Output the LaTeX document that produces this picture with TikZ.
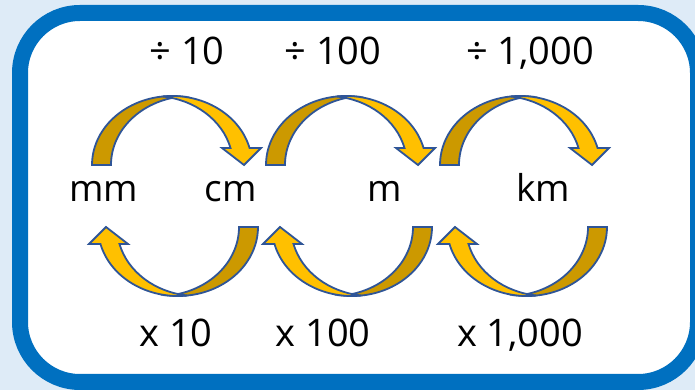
\documentclass[tikz,border=0pt]{standalone}
\usepackage{fontspec}
\setmainfont{Open Sans}
\definecolor{bgblue}{HTML}{DEEBF7}
\definecolor{frameblue}{HTML}{0070C0}
\definecolor{darkgold}{HTML}{CC9900}
\definecolor{brightgold}{HTML}{FFC000}
\definecolor{edgeblue}{HTML}{2F5597}
\tikzset{
  arrowedge/.style={draw=edgeblue, line width=1.8pt, line join=miter},
  numlabel/.style={anchor=base, inner sep=0pt, font=\fontsize{38}{40}\selectfont},
  unitlabel/.style={anchor=base, inner sep=0pt, font=\fontsize{37}{40}\selectfont},
}
\newcommand\goldarrow[3]{%
\begin{scope}[shift={(#1,#2)},rotate=#3]
\filldraw[arrowedge,fill=darkgold] (-80,0)
  arc[start angle=180,end angle=83.18,x radius=80pt,y radius=69pt]
  arc[start angle=96.82,end angle=180,x radius=80pt,y radius=69pt] -- cycle;
\filldraw[arrowedge,fill=brightgold] (96.82:80pt and 69pt)
  arc[start angle=96.82,end angle=14.26,x radius=80pt,y radius=69pt]
  -- (89,17) -- (72,0) -- (50,17) -- (58.5,17)
  arc[start angle=14.26,end angle=83.18,x radius=80pt,y radius=69pt] -- cycle;
\end{scope}}
\begin{document}
\begin{tikzpicture}[x=1pt,y=1pt]
\useasboundingbox (0,0) rectangle (695,390);
\fill[bgblue] (0,0) rectangle (695,390);
\draw[frameblue, line width=16pt, rounded corners=60pt, fill=white] (20,8) rectangle (698,377);
% top arrows (divide)
\goldarrow{172}{225}{0}
\goldarrow{346}{225}{0}
\goldarrow{520}{225}{0}
% bottom arrows (multiply)
\goldarrow{178}{163}{180}
\goldarrow{352}{163}{180}
\goldarrow{527}{163}{180}
% labels
\node[numlabel] (d10) at (187,325) {÷ 10};
\node[numlabel] (d100) at (333,325) {÷ 100};
\node[numlabel] (d1000) at (530,325) {÷ 1,000};
\node[unitlabel] (mm) at (104,188) {mm};
\node[unitlabel] (cm) at (231,188) {cm};
\node[unitlabel] (m) at (385,188) {m};
\node[unitlabel] (km) at (543,188) {km};
\node[numlabel] (x10) at (176,43) {x 10};
\node[numlabel] (x100) at (323,43) {x 100};
\node[numlabel] (x1000) at (520,43) {x 1,000};
\end{tikzpicture}
\end{document}
